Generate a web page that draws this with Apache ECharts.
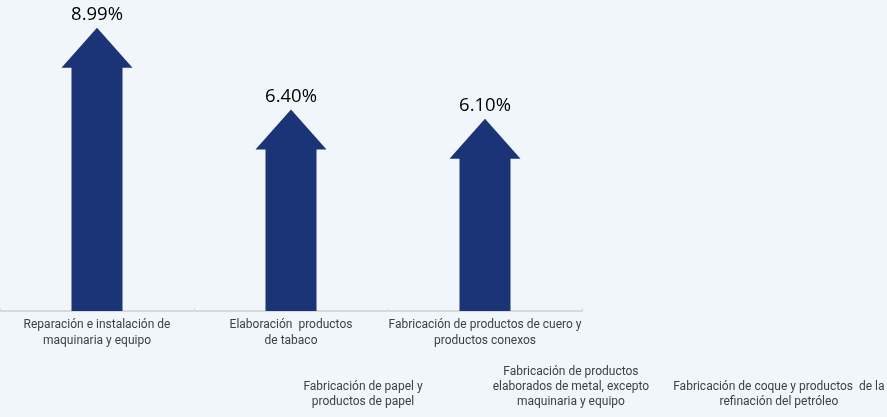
<!DOCTYPE html>
<html><head><meta charset="utf-8">
<script src="https://cdn.jsdelivr.net/npm/echarts@6/dist/echarts.min.js"></script>
<style>html,body{margin:0;padding:0;background:#f1f6fb;}#c{width:887px;height:417px;}</style>
</head><body><div id="c"></div>
<script>
const categories = [
  "Reparación e instalación de\nmaquinaria y equipo",
  "Elaboración  productos\nde tabaco",
  "Fabricación de productos de cuero y\nproductos conexos"
];
const values = [8.99, 6.40, 6.10];
const lowerCategories = [
  "Fabricación de papel y\nproductos de papel",
  "Fabricación de productos\nelaborados de metal, excepto\nmaquinaria y equipo",
  "Fabricación de coque y productos  de la\nrefinación del petróleo"
];

const arrowColor = '#1b3477';
const chart = echarts.init(document.getElementById('c'));
chart.setOption({
  backgroundColor: '#f1f6fb',
  animation: false,
  grid: [
    {left: 0, width: 582, top: 27.5, bottom: 106},
    {left: 259, width: 627, top: 320, height: 20}
  ],
  xAxis: [
    {type: 'category', gridIndex: 0, data: categories,
     axisLine: {lineStyle: {color: '#d9d9d9', width: 2}},
     axisTick: {show: true, inside: true, length: 3, lineStyle: {color: '#d9d9d9'}},
     axisLabel: {margin: 6, fontFamily: 'Roboto', fontSize: 12, color: '#404040', lineHeight: 16, interval: 0}},
    {type: 'category', gridIndex: 1, data: lowerCategories,
     axisLine: {show: false}, axisTick: {show: false},
     axisLabel: {margin: 69, verticalAlign: 'bottom', fontFamily: 'Roboto', fontSize: 12, color: '#404040', lineHeight: 15, interval: 0}}
  ],
  yAxis: [
    {type: 'value', gridIndex: 0, min: 0, max: 9, show: false},
    {type: 'value', gridIndex: 1, min: 0, max: 1, show: false}
  ],
  series: [{
    type: 'custom',
    xAxisIndex: 0, yAxisIndex: 0,
    data: values.map((v, i) => [i, v]),
    renderItem: function (params, api) {
      const tip = api.coord([api.value(0), api.value(1)]);
      const base = api.coord([api.value(0), 0]);
      const cx = tip[0];
      const headH = 40, headW = 35.5, shaftW = 25.5;
      const pts = [
        [cx, tip[1]],
        [cx + headW, tip[1] + headH],
        [cx + shaftW, tip[1] + headH],
        [cx + shaftW, base[1]],
        [cx - shaftW, base[1]],
        [cx - shaftW, tip[1] + headH],
        [cx - headW, tip[1] + headH]
      ];
      return {
        type: 'group',
        children: [
          {type: 'polygon', shape: {points: pts}, style: {fill: arrowColor}},
          {type: 'text', style: {
            text: api.value(1).toFixed(2) + '%',
            x: cx, y: tip[1] - 13,
            align: 'center', verticalAlign: 'middle',
            fontFamily: 'Open Sans', fontSize: 18.5, fill: '#000000'
          }}
        ]
      };
    }
  }]
});
</script></body></html>
